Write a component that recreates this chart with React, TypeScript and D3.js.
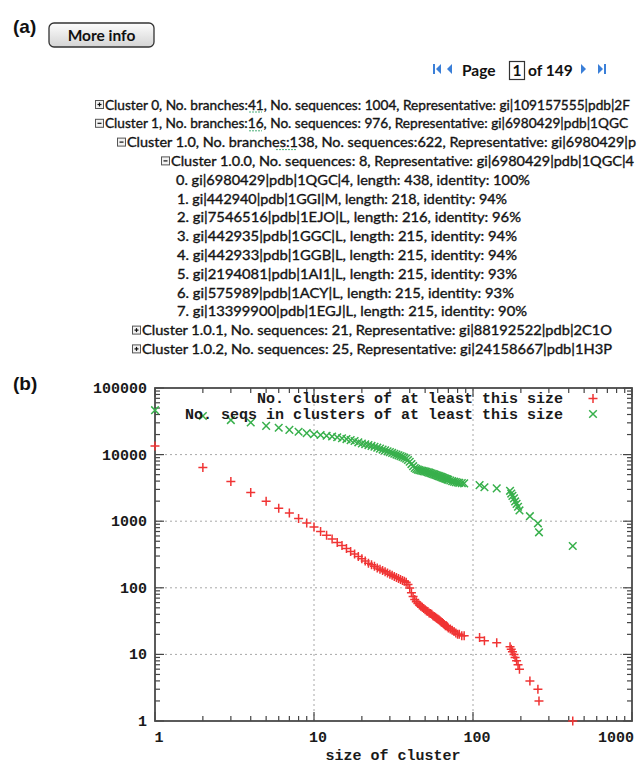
import * as d3 from "d3";
import { useEffect } from "react";

// ---------------- DATA ----------------

const treeLines = [
  "Cluster 0, No. branches:41, No. sequences: 1004, Representative: gi|109157555|pdb|2F",
  "Cluster 1, No. branches:16, No. sequences: 976, Representative: gi|6980429|pdb|1QGC",
  "Cluster 1.0, No. branches:138, No. sequences:622, Representative: gi|6980429|p",
  "Cluster 1.0.0, No. sequences: 8, Representative: gi|6980429|pdb|1QGC|4",
  "0. gi|6980429|pdb|1QGC|4, length: 438, identity: 100%",
  "1. gi|442940|pdb|1GGI|M, length: 218, identity: 94%",
  "2. gi|7546516|pdb|1EJO|L, length: 216, identity: 96%",
  "3. gi|442935|pdb|1GGC|L, length: 215, identity: 94%",
  "4. gi|442933|pdb|1GGB|L, length: 215, identity: 94%",
  "5. gi|2194081|pdb|1AI1|L, length: 215, identity: 93%",
  "6. gi|575989|pdb|1ACY|L, length: 215, identity: 93%",
  "7. gi|13399900|pdb|1EGJ|L, length: 215, identity: 90%",
  "Cluster 1.0.1, No. sequences: 21, Representative: gi|88192522|pdb|2C1O",
  "Cluster 1.0.2, No. sequences: 25, Representative: gi|24158667|pdb|1H3P",
];
// "plus" = collapsed, "minus" = expanded, "" = leaf
const treeToggles = ["plus", "minus", "minus", "minus", "", "", "", "", "", "", "", "", "plus", "plus"];

const currentPage = 1;
const totalPages = 149;

const clusterSizes = [
  1, 2, 3, 4, 5, 6, 7, 8, 9, 10,
  11, 12, 13, 14, 15, 16, 17, 18, 19, 20,
  21, 22, 23, 24, 25, 26, 27, 28, 29, 30,
  31, 32, 33, 34, 35, 36, 37, 38, 39, 40,
  41, 42, 43, 44, 45, 46, 47, 48, 49, 50,
  51, 52, 53, 54, 55, 56, 57, 58, 59, 60,
  61, 62, 63, 64, 65, 66, 67, 68, 69, 70,
  72, 74, 76, 78, 80, 82, 85, 88,
  110, 118, 141, 171, 174, 177, 181, 184, 188, 192, 196, 228, 256, 260, 424,
];

const numClusters = [
  13500, 6400, 3950, 2700, 2000, 1560, 1330, 1100, 940, 820,
  700, 615, 540, 480, 430, 388, 352, 322, 295, 272,
  252, 234, 221, 210, 199, 190, 182, 174, 167, 160,
  154, 148, 143, 138, 133, 129, 125, 121, 112, 99,
  84, 74, 67, 62, 58, 55, 53, 51, 49, 47,
  45, 44, 42, 41, 40, 38, 37, 36, 35, 34,
  33, 32, 31, 30, 29, 28, 27, 27, 26, 25,
  24, 23, 22, 21, 20, 20, 19, 19,
  18, 16, 15, 13, 12, 11, 10, 9, 8, 7, 6, 4, 3, 2, 1,
];

const numSeqs = [
  46500, 38000, 33000, 30300, 27000, 25300, 23500, 22000, 21000, 20200,
  19700, 19200, 18700, 18200, 17600, 17100, 16500, 16000, 15300, 14700,
  14300, 13900, 13500, 13100, 12700, 12300, 11900, 11600, 11200, 10900,
  10600, 10300, 10000, 9750, 9500, 9250, 9000, 8700, 8300, 7800,
  7200, 6700, 6300, 6100, 5950, 5850, 5780, 5710, 5640, 5580,
  5520, 5440, 5360, 5280, 5200, 5120, 5040, 4970, 4900, 4830,
  4760, 4690, 4620, 4550, 4480, 4420, 4360, 4300, 4240, 4180,
  4080, 3990, 3920, 3860, 3810, 3770, 3730, 3700,
  3480, 3230, 3110, 2860, 2600, 2400, 2200, 1980, 1820, 1650, 1450, 1190, 930, 680, 424,
];

const seriesLabels = [
  "No. clusters of at least this size",
  "No. seqs in clusters of at least this size",
];
const xTickLabels = ["1", "10", "100", "1000"];
const yTickLabels = ["1", "10", "100", "1000", "10000", "100000"];

// ---------------- LAYOUT ----------------

const W = 642;
const H = 765;
const treeBoxX = [95, 95, 117, 161, 0, 0, 0, 0, 0, 0, 0, 0, 132, 132];
const treeTextX = [105, 105, 127, 171, 176, 177, 177, 177, 177, 177, 177, 177, 142, 142];
const treeTextEnd = [630, 628, 636, 634, 530, 507, 521, 517, 517, 517, 514, 527, 612, 612];
const treeTop = 105;
const rowStep = 18.8;

const RED = "#f03434";
const GREEN = "#38b04c";
const monoFont = "'Liberation Mono', 'DejaVu Sans Mono', monospace";
const uiFont = "Lato, 'Open Sans', sans-serif";

export default function App() {
  useEffect(() => {
    document.body.style.margin = "0";
  }, []);

  const X = d3.scaleLog().domain([1, 1000]).range([155, 632]);
  const Y = d3.scaleLog().domain([1, 100000]).range([721, 388]);
  const [x0, x1] = X.range();
  const [y0, y1] = Y.range();

  const isMajor = (v: number) => Math.abs(Math.log10(v) - Math.round(Math.log10(v))) < 1e-9;
  const xTicks = X.ticks();
  const yTicks = Y.ticks();

  const plus = (cx: number, cy: number, s: number) => `M${cx - s},${cy}H${cx + s}M${cx},${cy - s}V${cy + s}`;
  const cross = (cx: number, cy: number, s: number) =>
    `M${cx - s},${cy - s}L${cx + s},${cy + s}M${cx - s},${cy + s}L${cx + s},${cy - s}`;

  const toggleIcon = (kind: string, bx: number, cy: number, key: number) => {
    if (!kind) return null;
    return (
      <g key={"t" + key}>
        <rect x={bx + 0.5} y={cy - 4.5} width={8} height={8} fill="#f2f2f2" stroke="#555" strokeWidth={1} />
        <path d={`M${bx + 2.5},${cy - 0.5}H${bx + 6.5}`} stroke="#111" strokeWidth={1.2} />
        {kind === "plus" && <path d={`M${bx + 4.5},${cy - 2.5}V${cy + 1.5}`} stroke="#111" strokeWidth={1.2} />}
      </g>
    );
  };

  return (
    <div style={{ position: "absolute", left: 0, top: 0 }}>
      <svg width={W} height={H} style={{ display: "block", background: "#fff" }}>
        <defs>
          <linearGradient id="btnGrad" x1="0" y1="0" x2="0" y2="1">
            <stop offset="0" stopColor="#fdfdfd" />
            <stop offset="1" stopColor="#d4d4d4" />
          </linearGradient>
        </defs>

        {/* ---------- (a) ---------- */}
        <text x={13} y={33} fontFamily="'Liberation Sans', Arial, sans-serif" fontWeight="bold" fontSize={19} fill="#111">
          (a)
        </text>
        <rect x={49} y={23} width={105} height={24} rx={5} fill="url(#btnGrad)" stroke="#333" strokeWidth={1.3} />
        <text x={101.5} y={40.5} textAnchor="middle" fontFamily={uiFont} fontWeight="bold" fontSize={15.5} fill="#111">
          More info
        </text>

        {/* pager */}
        <g fill="#3a7fd8">
          <rect x={433} y={64} width={2} height={10} />
          <path d="M436,69L441,64V74Z" />
          <path d="M447,69L452,64V74Z" />
          <path d="M586,69L581,64V74Z" />
          <path d="M603,69L598,64V74Z" />
          <rect x={604} y={64} width={2} height={10} />
        </g>
        <text x={462} y={75.5} fontFamily={uiFont} fontWeight="bold" fontSize={15.5} fill="#111">
          Page
        </text>
        <rect x={509.5} y={61.5} width={15} height={18} fill="#fff" stroke="#333" strokeWidth={1.2} />
        <text x={517} y={75.5} textAnchor="middle" fontFamily={uiFont} fontWeight="bold" fontSize={15.5} fill="#111">
          {currentPage}
        </text>
        <text x={528} y={75.5} fontFamily={uiFont} fontWeight="bold" fontSize={15.5} fill="#111">
          of {totalPages}
        </text>

        {/* tree */}
        {treeLines.map((line, i) => {
          const cy = treeTop + i * rowStep;
          return (
            <g key={"row" + i}>
              {toggleIcon(treeToggles[i], treeBoxX[i], cy, i)}
              <text
                x={treeTextX[i]}
                y={cy + 4.5}
                fontFamily={uiFont}
                fontSize={13.5}
                fill="#141414"
                stroke="#141414"
                strokeWidth={0.35}
                textLength={treeTextEnd[i] - treeTextX[i]}
                lengthAdjust="spacingAndGlyphs"
              >
                {line}
              </text>
            </g>
          );
        })}
        {/* spell-check squiggles under branch numbers */}
        <g stroke="#4caf7a" strokeWidth={1} strokeDasharray="2,1" fill="none">
          <path d={`M${249},${treeTop + 7}h13`} />
          <path d={`M${249},${treeTop + rowStep + 7}h13`} />
          <path d={`M${276},${treeTop + 2 * rowStep + 7}h20`} />
        </g>

        {/* ---------- (b) ---------- */}
        <text x={13} y={390} fontFamily="'Liberation Sans', Arial, sans-serif" fontWeight="bold" fontSize={19} fill="#111">
          (b)
        </text>

        {/* grid */}
        <g stroke="#a8a8a8" strokeWidth={1} strokeDasharray="2,3">
          {xTicks.filter(isMajor).filter((v) => v > 1 && v < 1000).map((v) => (
            <line key={"gx" + v} x1={X(v)} x2={X(v)} y1={y0} y2={y1} />
          ))}
          {yTicks.filter(isMajor).filter((v) => v > 1 && v < 100000).map((v) => (
            <line key={"gy" + v} x1={x0} x2={x1} y1={Y(v)} y2={Y(v)} />
          ))}
        </g>

        {/* ticks (inward, mirrored) */}
        <g stroke="#444" strokeWidth={1.2}>
          {xTicks.map((v) => {
            const len = isMajor(v) ? 9 : 5;
            return (
              <g key={"tx" + v}>
                <line x1={X(v)} x2={X(v)} y1={y0} y2={y0 - len} />
                <line x1={X(v)} x2={X(v)} y1={y1} y2={y1 + len} />
              </g>
            );
          })}
          {yTicks.map((v) => {
            const len = isMajor(v) ? 9 : 5;
            return (
              <g key={"ty" + v}>
                <line x1={x0} x2={x0 + len} y1={Y(v)} y2={Y(v)} />
                <line x1={x1} x2={x1 - len} y1={Y(v)} y2={Y(v)} />
              </g>
            );
          })}
        </g>

        {/* frame */}
        <rect x={x0} y={y1} width={x1 - x0} height={y0 - y1} fill="none" stroke="#4a4a4a" strokeWidth={1.8} />

        {/* tick labels */}
        <g fontFamily={monoFont} fontWeight="bold" fontSize={15} fill="#1a1a1a">
          {xTickLabels.map((t, i) => {
            const v = +t;
            const last = i === xTickLabels.length - 1;
            return (
              <text key={"xl" + t} x={last ? 634 : X(v) + 4} y={742} textAnchor={last ? "end" : "middle"}>
                {t}
              </text>
            );
          })}
          {yTickLabels.map((t) => (
            <text key={"yl" + t} x={147} y={Y(+t) + 5} textAnchor="end">
              {t}
            </text>
          ))}
          <text x={393} y={760} textAnchor="middle">
            size of cluster
          </text>
        </g>

        {/* series: seqs (green x) */}
        <g stroke={GREEN} strokeWidth={1.5} fill="none">
          {clusterSizes.map((s, i) => (
            <path key={"g" + i} d={cross(X(s), Y(numSeqs[i]), 3.8)} />
          ))}
        </g>
        {/* series: clusters (red +) */}
        <g stroke={RED} strokeWidth={1.5} fill="none">
          {clusterSizes.map((s, i) => (
            <path key={"r" + i} d={plus(X(s), Y(numClusters[i]), 4.5)} />
          ))}
        </g>

        {/* legend */}
        <g fontFamily={monoFont} fontWeight="bold" fontSize={15} fill="#1a1a1a" textAnchor="end">
          <text x={563} y={403}>{seriesLabels[0]}</text>
          <text x={563} y={419}>{seriesLabels[1]}</text>
        </g>
        <path d={plus(593, 398.5, 4.5)} stroke={RED} strokeWidth={1.5} />
        <path d={cross(593, 414, 3.8)} stroke={GREEN} strokeWidth={1.5} />
      </svg>
    </div>
  );
}
